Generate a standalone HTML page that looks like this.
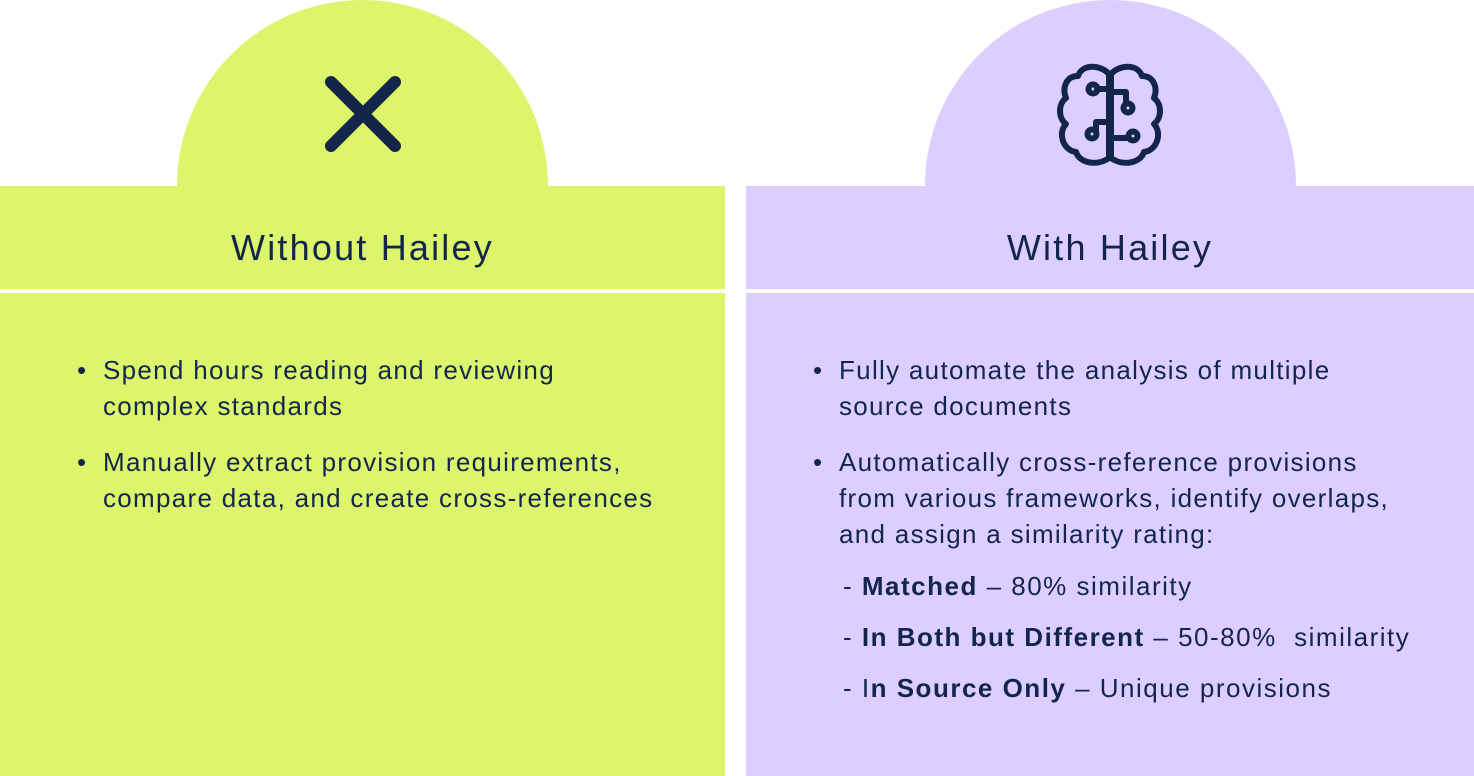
<!DOCTYPE html>
<html><head><style>
body{margin:0;width:1474px;height:776px;position:relative;background:#fff;font-family:"Liberation Sans",sans-serif;color:#13264a;overflow:hidden}
.p{position:absolute}
.t{position:absolute;font-size:36px;text-align:center;line-height:40px;letter-spacing:2.2px}
ul{position:absolute;margin:0;padding:0;list-style:none;font-size:26px;line-height:36px;letter-spacing:1.3px;white-space:nowrap}
li{position:relative;padding-left:26px;margin-bottom:20px}
li:before{content:"•";position:absolute;left:0;top:0}
.s{font-size:26px;position:absolute;left:843px;letter-spacing:1.5px;white-space:nowrap}
b{font-weight:bold}
</style></head><body>
<div class="p" style="left:177px;top:0;width:371px;height:371px;border-radius:50%;background:#dcf56c"></div>
<div class="p" style="left:925px;top:0;width:371px;height:371px;border-radius:50%;background:#dccfff"></div>
<div class="p" style="left:0;top:186px;width:725px;height:590px;background:#dcf56c"></div>
<div class="p" style="left:746px;top:186px;width:728px;height:590px;background:#dccfff"></div>
<div class="p" style="left:0;top:289px;width:1474px;height:4px;background:#fff"></div>
<svg class="p" style="left:0;top:0" width="1474" height="200">
<g stroke="#13264a" stroke-width="12" stroke-linecap="round"><line x1="331" y1="82" x2="395" y2="146"/><line x1="395" y1="82" x2="331" y2="146"/></g>
<g fill="none" stroke="#13264a" stroke-width="6" stroke-linecap="round" stroke-linejoin="round">
<path d="M1109 74 C1100 64 1082 64 1078 76 C1066 76 1062 88 1066 98 C1058 104 1058 118 1066 124 C1058 132 1062 150 1076 152 C1080 164 1098 166 1109 158 Z"/>
<path d="M1111 74 C1120 64 1138 64 1142 76 C1154 76 1158 88 1154 98 C1162 104 1162 118 1154 124 C1162 132 1158 150 1144 152 C1140 164 1122 166 1111 158 Z"/>
<line x1="1110" y1="74" x2="1110" y2="158"/>
<path d="M1097 89 H1110"/><circle cx="1093" cy="89" r="4.5"/>
<path d="M1110 92 H1126 V103"/><circle cx="1128" cy="108" r="4.5"/>
<path d="M1110 122 H1096 V130"/><circle cx="1092" cy="134" r="4.5"/>
<path d="M1110 138 H1128"/><circle cx="1133" cy="136" r="4.5"/>
</g></svg>
<div class="t" style="left:0;top:228px;width:725px">Without Hailey</div>
<div class="t" style="left:746px;top:228px;width:728px">With Hailey</div>
<ul style="left:77px;top:352px">
<li>Spend hours reading and reviewing<br>complex standards</li>
<li>Manually extract provision requirements,<br>compare data, and create cross-references</li>
</ul>
<ul style="left:813px;top:352px">
<li>Fully automate the analysis of multiple<br>source documents</li>
<li>Automatically cross-reference provisions<br>from various frameworks, identify overlaps,<br>and assign a similarity rating:</li>
</ul>
<div class="s" style="top:571px">- <b>Matched</b> – 80% similarity</div>
<div class="s" style="top:622px">- <b>In Both but Different</b> – 50-80%&nbsp; similarity</div>
<div class="s" style="top:673px">- I<b>n Source Only</b> – Unique provisions</div>
</body></html>
